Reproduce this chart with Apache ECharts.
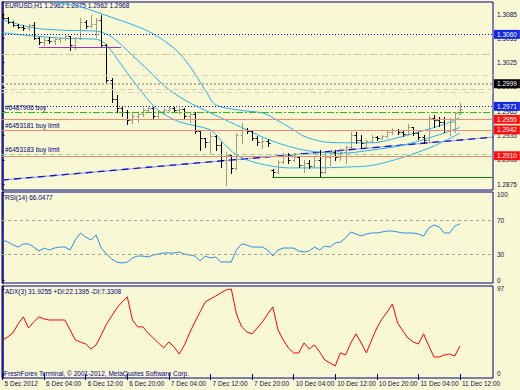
<!DOCTYPE html>
<html><head><meta charset="utf-8">
<script src="https://cdn.jsdelivr.net/npm/echarts@6/dist/echarts.min.js"></script>
<style>html,body{margin:0;padding:0;background:#f9f8d4;}#c{width:520px;height:390px;}</style>
</head><body><div id="c"></div>
<script>
// ---------- data ----------
const symbol = 'EURUSD,H1';
const tickBars = [0, 8, 16, 24, 32, 40, 48, 56, 64, 72, 80, 88];
const tickLabels = ['5 Dec 2012', '6 Dec 04:00', '6 Dec 12:00', '6 Dec 20:00', '7 Dec 04:00', '7 Dec 12:00',
  '7 Dec 20:00', '10 Dec 04:00', '10 Dec 12:00', '10 Dec 20:00', '11 Dec 04:00', '11 Dec 12:00'];
const priceTicks = [1.3085, 1.3055, 1.3025, 1.2995, 1.2965, 1.2935, 1.2905, 1.2875];
const rsiTicks = [100, 70, 30, 0];
const rsiLevels = [70, 30];
const adxTicks = [97, 0];

const opens = [1.3084,1.3080,1.3075,1.3071,1.3069,1.3068,1.3071,1.3055,1.3050,1.3053,
1.3052,1.3054,1.3055,1.3058,1.3047,1.3055,1.3075,1.3070,1.3073,1.3078,
1.3047,1.3004,1.2980,1.2969,1.2964,1.2954,1.2959,1.2962,1.2966,1.2969,
1.2959,1.2965,1.2966,1.2969,1.2966,1.2968,1.2959,1.2962,1.2941,1.2932,
1.2927,1.2934,1.2923,1.2905,1.2911,1.2895,1.2936,1.2942,1.2941,1.2932,
1.2927,1.2928,1.2892,1.2890,1.2902,1.2910,1.2905,1.2908,1.2899,1.2901,
1.2897,1.2905,1.2890,1.2908,1.2915,1.2908,1.2915,1.2921,1.2936,1.2929,
1.2926,1.2928,1.2933,1.2932,1.2934,1.2939,1.2942,1.2939,1.2937,1.2945,
1.2938,1.2933,1.2929,1.2957,1.2954,1.2952,1.2942,1.2952,1.2962];
const highs = [1.3085,1.3081,1.3076,1.3073,1.3071,1.3073,1.3075,1.3057,1.3055,1.3057,
1.3055,1.3057,1.3060,1.3058,1.3057,1.3080,1.3078,1.3084,1.3080,1.3084,
1.3048,1.3006,1.2985,1.2970,1.2966,1.2963,1.2964,1.2969,1.2970,1.2970,
1.2966,1.2969,1.2971,1.2970,1.2969,1.2969,1.2963,1.2964,1.2942,1.2932,
1.2939,1.2936,1.2927,1.2915,1.2911,1.2938,1.2950,1.2944,1.2942,1.2934,
1.2932,1.2931,1.2894,1.2905,1.2913,1.2913,1.2913,1.2910,1.2905,1.2905,
1.2908,1.2917,1.2913,1.2917,1.2917,1.2920,1.2922,1.2939,1.2939,1.2936,
1.2929,1.2936,1.2934,1.2936,1.2942,1.2944,1.2943,1.2942,1.2949,1.2945,
1.2939,1.2936,1.2960,1.2960,1.2958,1.2958,1.2957,1.2964,1.2975];
const lows = [1.3079,1.3074,1.3070,1.3068,1.3065,1.3066,1.3054,1.3048,1.3047,1.3049,
1.3048,1.3050,1.3053,1.3041,1.3042,1.3054,1.3068,1.3069,1.3057,1.3044,
1.3001,1.2976,1.2964,1.2959,1.2949,1.2950,1.2952,1.2959,1.2964,1.2957,
1.2958,1.2963,1.2965,1.2964,1.2963,1.2957,1.2952,1.2938,1.2917,1.2921,
1.2913,1.2917,1.2896,1.2874,1.2889,1.2894,1.2926,1.2938,1.2929,1.2923,
1.2920,1.2922,1.2884,1.2889,1.2901,1.2901,1.2904,1.2896,1.2890,1.2895,
1.2896,1.2884,1.2889,1.2899,1.2905,1.2905,1.2901,1.2920,1.2926,1.2921,
1.2920,1.2927,1.2929,1.2931,1.2933,1.2937,1.2937,1.2934,1.2936,1.2936,
1.2931,1.2926,1.2927,1.2945,1.2947,1.2939,1.2936,1.2939,1.2962];
const closes = [1.3080,1.3075,1.3071,1.3069,1.3068,1.3071,1.3055,1.3050,1.3053,1.3052,
1.3054,1.3055,1.3058,1.3047,1.3055,1.3075,1.3070,1.3073,1.3078,1.3047,
1.3004,1.2980,1.2969,1.2964,1.2954,1.2959,1.2962,1.2966,1.2969,1.2959,
1.2965,1.2966,1.2969,1.2966,1.2968,1.2959,1.2962,1.2941,1.2932,1.2927,
1.2934,1.2923,1.2905,1.2911,1.2895,1.2936,1.2942,1.2941,1.2932,1.2927,
1.2928,1.2926,1.2890,1.2902,1.2910,1.2905,1.2908,1.2899,1.2901,1.2897,
1.2905,1.2890,1.2908,1.2915,1.2908,1.2915,1.2921,1.2936,1.2929,1.2926,
1.2928,1.2933,1.2932,1.2934,1.2939,1.2942,1.2939,1.2937,1.2945,1.2938,
1.2933,1.2929,1.2957,1.2954,1.2952,1.2942,1.2952,1.2963,1.2968];

const bbUpper = [[0,1.3140],[5,1.3121],[9,1.3102],[15,1.3094],[21,1.3081],[28,1.3064],[33,1.3043],[36,1.3021],
  [39,1.2991],[41,1.2973],[46,1.2966],[50,1.2963],[52,1.2957],[56,1.2942],[58,1.2934],[62,1.2927],[67,1.2926],
  [71,1.2926],[77,1.2934],[82,1.2943],[85,1.2949],[88,1.2957]];
const bbMiddle = [[0,1.3078],[6,1.3068],[12,1.3065],[18,1.3064],[21,1.3057],[25,1.3034],[28,1.3016],[31,1.2997],
  [35,1.2979],[41,1.2960],[46,1.2945],[52,1.2928],[58,1.2917],[65,1.2913],[71,1.2917],[77,1.2923],[84,1.2936],[88,1.2945]];
const bbLower = [[0,1.3062],[6,1.3058],[12,1.3055],[18,1.3054],[20,1.3047],[23,1.3021],[27,1.2987],[30,1.2966],
  [34,1.2952],[40,1.2942],[42,1.2929],[45,1.2911],[49,1.2901],[55,1.2895],[60,1.2895],[66,1.2896],[71,1.2898],
  [77,1.2908],[83,1.2922],[88,1.2938]];

const rsi = [47.1,44.7,41.2,38.8,42.4,42.4,38.8,34.1,37.6,35.3,
37.6,38.8,38.8,35.3,47.1,55.3,50.6,47.1,52.9,37.6,
30.6,24.7,21.2,20.0,21.2,25.9,28.2,28.2,27.1,29.4,
30.6,31.8,31.8,31.8,32.9,30.6,29.4,28.2,22.4,28.2,
25.9,27.1,21.2,21.2,21.2,35.3,42.4,41.2,38.8,38.8,
38.8,35.3,28.2,35.3,37.6,37.6,37.6,34.1,32.9,34.1,
38.8,35.3,40.0,38.8,43.5,44.7,49.4,56.5,54.1,51.8,
54.1,55.3,55.3,56.5,57.6,57.6,56.5,55.3,55.3,55.3,
54.1,51.8,61.2,64.7,62.4,55.3,55.3,63.5,66.0477];
const adx = [38.8,42.2,46.8,57.1,65.1,52.5,59.4,65.1,62.8,61.6,
61.6,61.6,61.6,50.2,38.8,36.5,34.2,28.5,33.1,44.5,
57.1,66.2,75.3,82.2,87.9,61.6,53.7,53.7,46.8,41.1,
35.4,29.7,36.5,30.8,22.8,33.1,46.8,59.4,70.8,82.2,
85.6,89.0,92.5,95.9,97.0,68.5,53.7,47.9,45.7,52.5,
59.4,68.5,76.5,50.2,38.8,29.7,24.0,24.0,35.4,28.5,
33.1,25.1,16.0,12.6,9.1,24.0,21.7,35.4,45.7,35.4,
24.0,38.8,52.5,62.8,70.8,79.9,58.2,49.1,41.1,36.5,
34.2,45.7,32.0,19.4,19.4,21.7,22.8,20.5,31.9255];
const diPlusLast = 22.1395, diMinusLast = 7.3308;

const trendLine = [[-0.1, 1.2880], [94.35, 1.2933]];
const purpleSegment = [[7, 1.3044], [22.8, 1.3044]];
const greenSegment = [[51.9, 1.2884], [94.35, 1.2884]];
const levelPrices = [1.3060, 1.3035, 1.3009, 1.2999, 1.2992, 1.2989, 1.2971, 1.2964, 1.2955, 1.2942, 1.2912, 1.2910];
const orderTexts = [['#6487906 buy', 1.2964], ['#6453181 buy limit', 1.2942], ['#6453183 buy limit', 1.2912]];
const copyright = 'FreshForex Terminal, \u00a9 2001-2012, MetaQuotes Software Corp.';

// ---------- styles ----------
const FONT = '"Liberation Sans", Arial, sans-serif';
const NAVY = '#000080';
const TXT = '#101050';
const FS = 6.5;
const levelStyles = [
  {c: '#1010d0', t: [1, 2], w: 1, box: '#1428e0'},
  {c: '#d2c296', t: [8, 3, 2, 3], w: 1},
  {c: '#e2d0b2', t: [6, 4], w: 1},
  {c: '#bdb59d', t: [2, 2], w: 2, box: '#000000'},
  {c: '#e8c8ae', t: [6, 3], w: 1},
  {c: '#ddd2b4', t: [6, 3, 2, 3], w: 1},
  {c: '#1010d0', t: [1, 2], w: 1, box: '#1428e0'},
  {c: '#22c022', t: [7, 2, 2, 2], w: 1},
  {c: '#f08874', t: 'solid', w: 1, box: '#ff1010'},
  {c: '#f08874', t: 'solid', w: 1, box: '#ff1010'},
  {c: '#96d896', t: [5, 3], w: 1},
  {c: '#f08874', t: 'solid', w: 1, box: '#ff1010'}
];

const ohlcData = opens.map((o, i) => [i, o, highs[i], lows[i], closes[i]]);
const idx = rsi.map((_, i) => i);

const levelItems = levelPrices.map((p, k) => {
  const s = levelStyles[k];
  const item = {yAxis: p, lineStyle: {color: s.c, type: s.t, width: s.w}, label: {show: false}};
  if (s.box) {
    item.label = {show: true, position: 'end', distance: 1, formatter: p.toFixed(4), color: '#ffffff',
      backgroundColor: s.box, padding: [1, 3, 1, 3], lineHeight: 7, fontSize: FS, fontFamily: FONT};
  }
  return item;
});
const textItems = orderTexts.map(([t, p]) => {
  const s = levelStyles[levelPrices.indexOf(p)];
  return {
    yAxis: p, lineStyle: {color: s.c, type: s.t, width: s.w},
    label: {show: true, position: 'insideStartTop', distance: 1, formatter: t, color: NAVY,
      padding: [0, 0, 0, 2], fontSize: FS, fontFamily: FONT}
  };
});
const segItems = [
  [{coord: purpleSegment[0], lineStyle: {color: '#9a32c8', width: 1, type: 'solid'}}, {coord: purpleSegment[1]}],
  [{coord: greenSegment[0], lineStyle: {color: '#108010', width: 1, type: 'solid'}}, {coord: greenSegment[1]}]
];

function renderOHLC(params, api) {
  const i = api.value(0);
  const o = api.value(1), c = api.value(4);
  const pO = api.coord([i, o]), pH = api.coord([i, api.value(2)]);
  const pL = api.coord([i, api.value(3)]), pC = api.coord([i, c]);
  const x = Math.round(pO[0]) + 0.5;
  const col = c >= o ? '#9e9c86' : '#000000';
  const yo = Math.round(pO[1]) + 0.5, yc = Math.round(pC[1]) + 0.5;
  const yh = Math.round(pH[1]), yl = Math.max(Math.round(pL[1]) + 1, yh + 1);
  const st = {stroke: col, lineWidth: 1};
  return {type: 'group', children: [
    {type: 'line', shape: {x1: x, y1: yh, x2: x, y2: yl}, style: st},
    {type: 'line', shape: {x1: x - 2, y1: yo, x2: x, y2: yo}, style: st},
    {type: 'line', shape: {x1: x, y1: yc, x2: x + 2, y2: yc}, style: st}
  ]};
}

const gridBase = {left: 2, width: 491, show: true, borderColor: NAVY, borderWidth: 1};
const xAxes = [0, 1, 2].map(g => ({
  type: 'value', gridIndex: g, min: -0.1, max: 94.35, show: g === 2,
  axisLine: {show: false}, splitLine: {show: false},
  axisTick: {show: true, customValues: tickBars, length: 6, lineStyle: {color: NAVY}},
  axisLabel: {customValues: tickBars, formatter: v => tickLabels[tickBars.indexOf(Math.round(v))] || '',
    align: 'left', margin: 2, padding: [0, 0, 0, 2], fontSize: FS, color: TXT, fontFamily: FONT}
}));
function yAx(g, min, max, ticks, fmt) {
  return {type: 'value', gridIndex: g, position: 'right', min, max,
    axisLine: {show: true, lineStyle: {color: NAVY, width: 1.5}},
    axisTick: {show: true, customValues: ticks, length: 2, lineStyle: {color: NAVY}},
    axisLabel: {customValues: ticks, formatter: fmt, margin: 4, fontSize: FS, color: TXT, fontFamily: FONT},
    splitLine: {show: false}};
}

const last = opens.length - 1;
const header = symbol + ' ' + [opens[last], highs[last], lows[last], closes[last]].map(v => v.toFixed(4)).join(' ');
const txt = (text, x, y) => ({type: 'text', left: x, top: y, silent: true,
  style: {text, font: FS + 'px ' + FONT, fill: NAVY}});

const option = {
  animation: false,
  backgroundColor: '#f9f8d4',
  grid: [
    Object.assign({top: 2, height: 188}, gridBase),
    Object.assign({top: 192, height: 91}, gridBase),
    Object.assign({top: 286, height: 92}, gridBase)
  ],
  xAxis: xAxes,
  yAxis: [
    yAx(0, 1.28677, 1.3100, priceTicks, v => v.toFixed(4)),
    yAx(1, -3.5, 103.5, rsiTicks, v => String(v)),
    yAx(2, -4.6, 100.4, adxTicks, v => String(v))
  ],
  series: [
    {type: 'line', name: 'trendBase', xAxisIndex: 0, yAxisIndex: 0, data: trendLine, showSymbol: false, z: 1,
      lineStyle: {color: '#a4a4e4', width: 1.3}, clip: true,
      markLine: {silent: true, symbol: ['none', 'none'], animation: false, precision: 5,
        data: levelItems.concat(textItems).concat(segItems)}},
    {type: 'line', name: 'trend', xAxisIndex: 0, yAxisIndex: 0, data: trendLine, showSymbol: false, z: 2,
      lineStyle: {color: '#1414d8', width: 1.3, type: [7, 5]}, clip: true},
    {type: 'line', name: 'bbUpper', xAxisIndex: 0, yAxisIndex: 0, data: bbUpper, showSymbol: false, smooth: 0.3,
      lineStyle: {color: '#28b2ea', width: 1}, clip: true, z: 3},
    {type: 'line', name: 'bbMiddle', xAxisIndex: 0, yAxisIndex: 0, data: bbMiddle, showSymbol: false, smooth: 0.3,
      lineStyle: {color: '#28b2ea', width: 1}, clip: true, z: 3},
    {type: 'line', name: 'bbLower', xAxisIndex: 0, yAxisIndex: 0, data: bbLower, showSymbol: false, smooth: 0.3,
      lineStyle: {color: '#28b2ea', width: 1}, clip: true, z: 3},
    {type: 'custom', name: 'ohlc', xAxisIndex: 0, yAxisIndex: 0, data: ohlcData, renderItem: renderOHLC,
      encode: {x: 0, y: [1, 2, 3, 4]}, clip: true, z: 4},
    {type: 'line', name: 'RSI', xAxisIndex: 1, yAxisIndex: 1, data: idx.map(i => [i, rsi[i]]), showSymbol: false,
      lineStyle: {color: '#2c8ee6', width: 1}, z: 3,
      markLine: {silent: true, symbol: ['none', 'none'], label: {show: false},
        lineStyle: {color: '#a8a894', type: [3, 3], width: 1}, data: rsiLevels.map(v => ({yAxis: v}))}},
    {type: 'line', name: 'ADX', xAxisIndex: 2, yAxisIndex: 2, data: idx.map(i => [i, adx[i]]), showSymbol: false,
      lineStyle: {color: '#ff0000', width: 1}, z: 3}
  ],
  graphic: [
    txt(header, 5, 2),
    txt('RSI(14) ' + rsi[last].toFixed(4), 5, 194),
    txt('ADX(3) ' + adx[last].toFixed(4) + ' +DI:' + diPlusLast.toFixed(4) + ' -DI:' + diMinusLast.toFixed(4), 5, 288),
    txt(copyright, 4, 370)
  ]
};

const chart = echarts.init(document.getElementById('c'), null, {renderer: 'svg'});
chart.setOption(option);
</script></body></html>
